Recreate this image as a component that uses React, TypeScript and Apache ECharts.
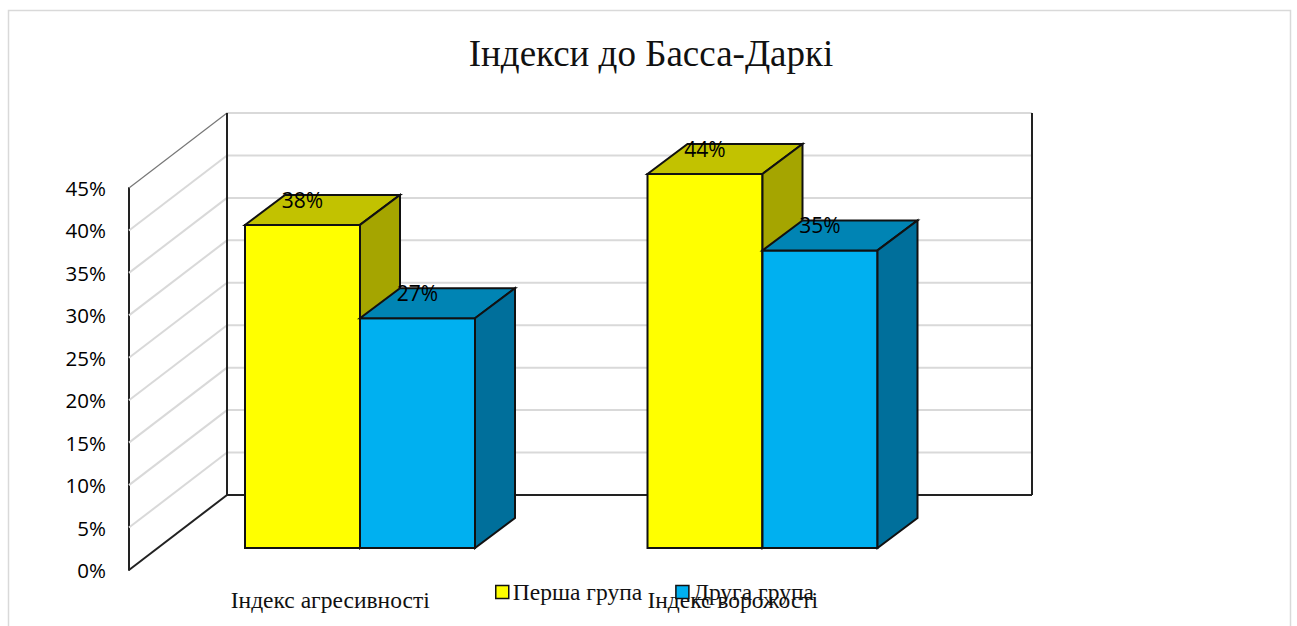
import React, { useEffect, useRef } from "react";
import * as echarts from "echarts";

const title = "Індекси до Басса-Даркі";
const categories = ["Індекс агресивності", "Індекс ворожості"];
const seriesNames = ["Перша група", "Друга група"];
const firstGroup = [38, 44];
const secondGroup = [27, 35];
const axisTicks = [0, 5, 10, 15, 20, 25, 30, 35, 40, 45];

const faceColors = [
  { front: "#FFFF00", top: "#C2C200", side: "#A5A500" },
  { front: "#00B0F0", top: "#0084B4", side: "#006F9B" },
];

const SERIF = '"Liberation Serif", serif';
const SANS = '"Open Sans", sans-serif';

const WALL_DX = 98;
const WALL_DY = -75;
const BAR_DX = 29.75;
const BAR_DY = -22;
const DEPTH_DX = 40;
const DEPTH_DY = -30;
const BAR_WIDTH = 115;

const poly = (points: number[][], fill: string) => ({
  type: "polygon",
  shape: { points },
  style: { fill, stroke: "#111", lineWidth: 2, lineJoin: "miter" },
});

const makeBarRender = (seriesIndex: number) => (params: any, api: any) => {
  const value = api.value(1);
  const p = api.coord([api.value(0), value]);
  const base = api.coord([api.value(0), 0]);
  const x0 = p[0] + BAR_DX + (seriesIndex - 1) * BAR_WIDTH;
  const x1 = x0 + BAR_WIDTH;
  const yTop = p[1] + BAR_DY - 0.5;
  const yBot = base[1] + BAR_DY;
  const c = faceColors[seriesIndex];
  return {
    type: "group",
    children: [
      poly([[x0, yTop], [x1, yTop], [x1, yBot], [x0, yBot]], c.front),
      poly(
        [[x0, yTop], [x1, yTop], [x1 + DEPTH_DX, yTop + DEPTH_DY], [x0 + DEPTH_DX, yTop + DEPTH_DY]],
        c.top
      ),
      poly(
        [[x1, yTop], [x1 + DEPTH_DX, yTop + DEPTH_DY], [x1 + DEPTH_DX, yBot + DEPTH_DY], [x1, yBot]],
        c.side
      ),
      {
        type: "text",
        x: (x0 + x1) / 2,
        y: yTop - 25,
        style: {
          text: `${value}%`,
          fill: "#000",
          font: `21px ${SANS}`,
          align: "center",
          verticalAlign: "middle",
        },
      },
    ],
  };
};

const wallRender = (params: any, api: any) => {
  const value = api.value(1);
  const y = api.coord([0, value])[1];
  const g = params.coordSys;
  const left = g.x;
  const right = g.x + g.width;
  const backLeft = left + WALL_DX;
  const backRight = right + WALL_DX;
  const backY = y + WALL_DY;
  const isBase = value === 0;
  const isTop = value === axisTicks[axisTicks.length - 1];
  const sideStroke = isBase ? "#222" : isTop ? "#777" : "#D9D9D9";
  return {
    type: "group",
    silent: true,
    children: [
      {
        type: "line",
        shape: { x1: left, y1: y, x2: backLeft, y2: backY },
        style: { stroke: sideStroke, lineWidth: isTop ? 1.2 : 2 },
      },
      {
        type: "line",
        shape: { x1: backLeft, y1: backY, x2: backRight, y2: backY },
        style: { stroke: isBase ? "#222" : "#D9D9D9", lineWidth: 2 },
      },
      ...(isTop
        ? [
            {
              type: "line",
              shape: { x1: backLeft, y1: backY, x2: backLeft, y2: backY + g.height },
              style: { stroke: "#222", lineWidth: 2 },
            },
            {
              type: "line",
              shape: { x1: backRight, y1: backY, x2: backRight, y2: backY + g.height },
              style: { stroke: "#222", lineWidth: 2 },
            },
          ]
        : []),
    ],
  };
};

export default function App() {
  const ref = useRef<HTMLDivElement>(null);
  useEffect(() => {
    const chart = echarts.init(ref.current!, null, { renderer: "svg" });
    chart.setOption({
      animation: false,
      backgroundColor: "#fff",
      title: {
        text: title,
        left: 646,
        top: 48,
        textAlign: "center",
        textVerticalAlign: "middle",
        textStyle: { fontFamily: SERIF, fontSize: 37, fontWeight: "normal", color: "#111" },
      },
      graphic: [
        {
          type: "polyline",
          shape: { points: [[8.5, 626], [8.5, 10.5], [1290.5, 10.5], [1290.5, 626]] },
          style: { stroke: "#D9D9D9", lineWidth: 1.5, fill: "none" },
          silent: true,
        },
      ],
      legend: {
        left: 495,
        top: 580,
        padding: 0,
        itemWidth: 13,
        itemHeight: 13,
        itemGap: 33,
        icon: "rect",
        textStyle: { fontFamily: SERIF, fontSize: 23.5, color: "#111", padding: [0, 0, 0, -1] },
        itemStyle: { borderColor: "#111", borderWidth: 1.5 },
        data: seriesNames,
      },
      grid: { left: 129, top: 188, width: 805, height: 382 },
      xAxis: {
        type: "category",
        data: categories,
        axisLine: { show: false },
        axisTick: { show: false },
        axisLabel: {
          margin: 18,
          fontFamily: SERIF,
          fontSize: 23.5,
          color: "#111",
        },
      },
      yAxis: {
        type: "value",
        min: 0,
        max: 45,
        interval: 5,
        axisLine: { show: true, lineStyle: { color: "#222", width: 2 } },
        axisTick: { show: false },
        splitLine: { show: false },
        axisLabel: {
          margin: 23,
          formatter: "{value}%",
          fontFamily: SANS,
          fontSize: 20.5,
          color: "#000",
        },
      },
      series: [
        {
          type: "custom",
          name: "walls",
          renderItem: wallRender,
          data: axisTicks.map((t) => [0, t]),
          encode: { x: 0, y: 1 },
          z: 1,
          silent: true,
        },
        {
          type: "custom",
          name: seriesNames[0],
          renderItem: makeBarRender(0),
          itemStyle: { color: faceColors[0].front },
          data: firstGroup.map((v, i) => [i, v]),
          encode: { x: 0, y: 1 },
          z: 3,
        },
        {
          type: "custom",
          name: seriesNames[1],
          renderItem: makeBarRender(1),
          itemStyle: { color: faceColors[1].front },
          data: secondGroup.map((v, i) => [i, v]),
          encode: { x: 0, y: 1 },
          z: 4,
        },
      ],
    });
    return () => chart.dispose();
  }, []);
  return (
    <div
      ref={ref}
      style={{ position: "absolute", left: 0, top: 0, width: 1297, height: 626, background: "#fff" }}
    />
  );
}
